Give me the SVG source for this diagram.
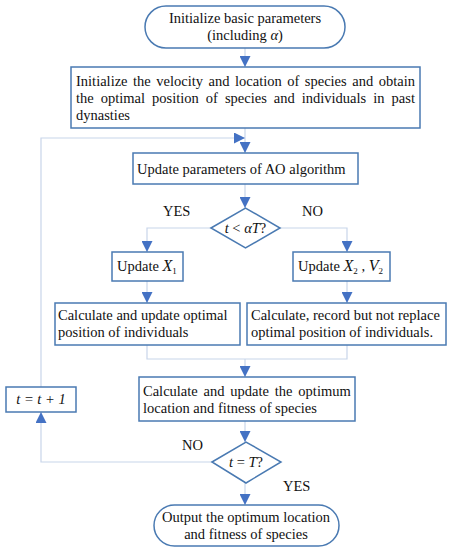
<svg xmlns="http://www.w3.org/2000/svg" width="452" height="550" viewBox="0 0 452 550">
<defs>
<marker id="ah" markerUnits="userSpaceOnUse" markerWidth="11" markerHeight="11" viewBox="0 0 10 10" refX="10" refY="5" orient="auto">
<path d="M0,0 L10,5 L0,10 z" fill="#4472C4"/>
</marker>
</defs>
<style>
.box{fill:#fff;stroke:#4a7ab2;stroke-width:1.5}
.ln{fill:none;stroke:#c8d5ea;stroke-width:1.2}
text{font-family:"Liberation Serif","Times New Roman",serif;font-size:14.5px;fill:#111}
.c{text-anchor:middle}
.i{font-style:italic}
.sub{font-size:9px}
</style>
<rect width="452" height="550" fill="#fff"/>
<g id="connectors">
<path class="ln" d="M245,48 V67" marker-end="url(#ah)"/>
<path class="ln" d="M245,128 V153" marker-end="url(#ah)"/>
<path class="ln" d="M41,387 V138 H245" marker-end="url(#ah)"/>
<path class="ln" d="M245,184 V208" marker-end="url(#ah)"/>
<path class="ln" d="M211,228 H147 V252" marker-end="url(#ah)"/>
<path class="ln" d="M280,228 H347 V252" marker-end="url(#ah)"/>
<path class="ln" d="M147,281 V303" marker-end="url(#ah)"/>
<path class="ln" d="M347,281 V303" marker-end="url(#ah)"/>
<path class="ln" d="M147,345 V359 H347 V345"/>
<path class="ln" d="M245,359 V377" marker-end="url(#ah)"/>
<path class="ln" d="M245,421 V442" marker-end="url(#ah)"/>
<path class="ln" d="M212,462 H41 V412" marker-end="url(#ah)"/>
<path class="ln" d="M245,483 V505" marker-end="url(#ah)"/>
<text x="163" y="216">YES</text>
<text x="302" y="216">NO</text>
<text x="182" y="450">NO</text>
<text x="283" y="491">YES</text>
</g>
<g id="start">
<rect class="box" x="145" y="6" width="200" height="42" rx="21"/>
<text class="c" x="245" y="23">Initialize basic parameters</text>
<text class="c" x="245" y="40">(including <tspan class="i">α</tspan>)</text>
</g>
<g id="init">
<rect class="box" x="71" y="67" width="349" height="61"/>
<text x="76" y="86" word-spacing="1.9">Initialize the velocity and location of species and obtain</text>
<text x="76" y="103" word-spacing="3.4">the optimal position of species and individuals in past</text>
<text x="76" y="120">dynasties</text>
</g>
<g id="update-params">
<rect class="box" x="133" y="153" width="225" height="31"/>
<text x="137" y="174">Update parameters of AO algorithm</text>
</g>
<g id="decision1">
<polygon class="box" points="211,228 245.5,208 280,228 245.5,248"/>
<text class="c" x="245.5" y="233"><tspan class="i">t</tspan> &lt; <tspan class="i">αT</tspan>?</text>
</g>
<g id="update-x1">
<rect class="box" x="112" y="252" width="71" height="29"/>
<text x="117" y="271">Update <tspan class="i" font-size="16">X</tspan><tspan class="sub" dy="3">1</tspan></text>
</g>
<g id="update-x2v2">
<rect class="box" x="293" y="252" width="97" height="29"/>
<text x="298" y="271">Update <tspan class="i" font-size="16">X</tspan><tspan class="sub" dy="3">2</tspan><tspan dy="-3"> ,  </tspan><tspan class="i" font-size="16">V</tspan><tspan class="sub" dy="3">2</tspan></text>
</g>
<g id="calc-left">
<rect class="box" x="55" y="303" width="185" height="42"/>
<text x="58" y="320">Calculate and update optimal</text>
<text x="58" y="337">position of individuals</text>
</g>
<g id="calc-right">
<rect class="box" x="247" y="303" width="199" height="42"/>
<text x="251" y="320">Calculate, record but not replace</text>
<text x="251" y="337">optimal position of individuals.</text>
</g>
<g id="calc-species">
<rect class="box" x="139" y="377" width="216" height="44"/>
<text x="143" y="396" word-spacing="2.2">Calculate and update the optimum</text>
<text x="143" y="413">location and fitness of  species</text>
</g>
<g id="increment">
<rect class="box" x="6" y="387" width="70" height="25"/>
<text class="c i" x="41" y="404" font-family="DejaVu Serif" font-size="13">t = t + 1</text>
</g>
<g id="decision2">
<polygon class="box" points="212,462 246,442 281,462 246,483"/>
<text class="c" x="246" y="467"><tspan class="i">t</tspan> = <tspan class="i">T</tspan>?</text>
</g>
<g id="end">
<rect class="box" x="154" y="505" width="185" height="41" rx="20.5"/>
<text class="c" x="246" y="522">Output the optimum location</text>
<text class="c" x="246" y="539">and fitness of species</text>
</g>
</svg>
